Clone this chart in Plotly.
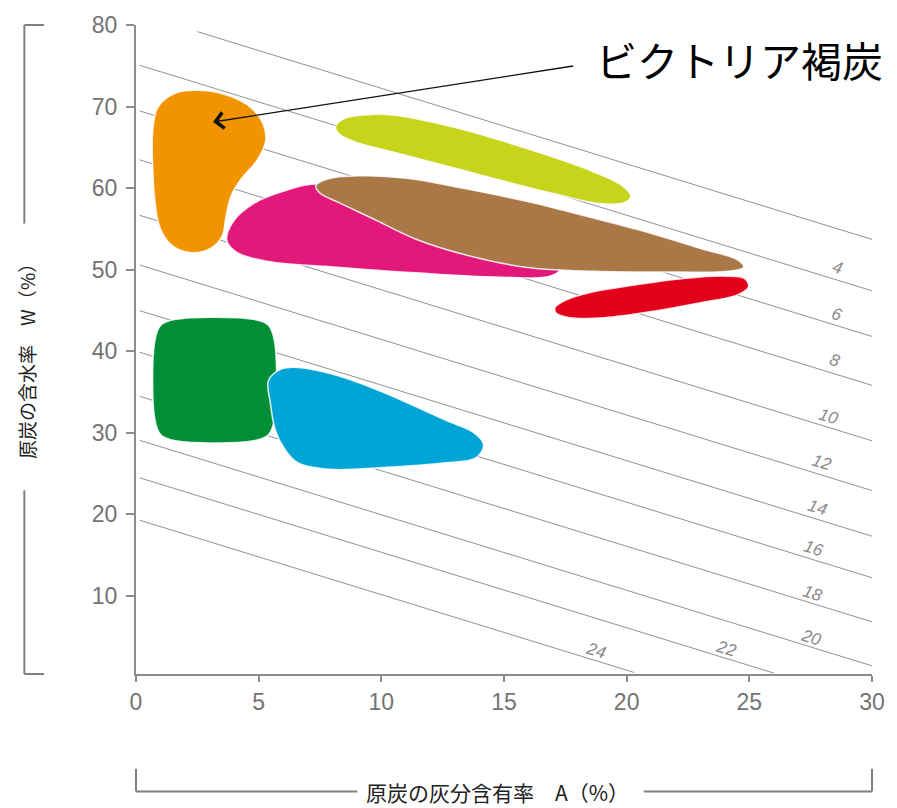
import plotly.graph_objects as go

# ---------------- data (A = ash %, W = moisture %) ----------------
x_ticks = [0, 5, 10, 15, 20, 25, 30]
y_ticks = [10, 20, 30, 40, 50, 60, 70, 80]

# iso-lines: W at A=0 and at A=30, and the A-range each line is drawn over
iso_labels = ["", "4", "6", "8", "10", "12", "14", "16", "18", "20", "22", "24"]
iso_w0 = [81.5, 75.2, 69.6, 63.6, 56.8, 50.7, 45.1, 40.0, 34.6, 29.2, 24.6, 19.4]
iso_w30 = [53.7, 47.4, 41.8, 35.8, 29.0, 22.9, 17.3, 12.2, 6.8, 1.4, -3.2, -8.4]
iso_a_start = [2.5, 0.15, 0.15, 0.15, 0.15, 0.15, 0.15, 0.15, 0.15, 0.15, 0.15, 0.15]
iso_a_end = [30, 30, 30, 30, 30, 30, 30, 30, 30, 30, 26.0, 20.3]
iso_label_a = [None, 28.59, 28.59, 28.51, 28.23, 27.95, 27.79, 27.63, 27.59, 27.51, 24.04, 18.73]
iso_label_w = [None, 50.3, 44.5, 38.9, 32.0, 26.3, 20.8, 15.8, 10.3, 4.9, 3.5, 3.3]

# coal regions (outline vertices)
orange_a = [1.57, 2.58, 3.70, 4.67, 5.19, 5.28, 4.91, 4.31, 3.87, 3.66, 3.50, 2.98, 2.17, 1.45, 0.97, 0.77, 0.68, 0.68, 0.89]
orange_w = [71.6, 72.0, 71.4, 69.9, 67.8, 65.7, 63.3, 61.2, 59.0, 56.4, 54.0, 52.5, 52.1, 53.0, 55.2, 58.4, 62.7, 66.9, 69.9]

yellow_a = [8.13, 8.46, 9.42, 10.63, 13.17, 15.87, 18.56, 19.81, 20.17, 19.89, 18.89, 17.19, 14.66, 13.17, 10.63, 8.90, 8.30]
yellow_w = [67.5, 68.5, 69.0, 68.9, 67.3, 64.9, 62.1, 60.3, 59.0, 58.2, 58.1, 59.2, 61.1, 62.3, 64.3, 65.7, 66.6]

magenta_a = [3.70, 3.99, 4.79, 6.00, 7.41, 10.63, 14.66, 17.28, 16.87, 14.66, 11.44, 8.21, 5.40, 4.11]
magenta_w = [53.6, 56.0, 58.1, 59.6, 60.5, 57.8, 53.0, 50.1, 49.2, 49.1, 49.6, 50.3, 51.0, 52.1]

brown_a = [7.33, 7.81, 9.02, 11.03, 13.45, 15.87, 18.28, 20.70, 23.11, 24.52, 24.77, 24.12, 21.91, 18.68, 15.87, 13.45, 11.44, 9.62, 8.21, 7.49]
brown_w = [60.3, 61.1, 61.5, 61.2, 59.9, 58.4, 56.6, 54.7, 52.5, 51.2, 50.3, 49.8, 49.7, 49.8, 50.3, 51.8, 53.7, 56.3, 58.3, 59.4]

red_a = [17.07, 17.48, 18.68, 20.30, 22.31, 23.92, 24.81, 24.97, 24.52, 23.11, 21.10, 19.09, 17.68, 17.15]
red_w = [45.3, 46.2, 47.3, 48.1, 48.9, 49.2, 48.9, 47.9, 46.9, 46.0, 44.9, 44.1, 44.1, 44.6]

green_a = [1.62, 4.79, 5.39, 5.64, 5.64, 5.39, 4.79, 1.62, 1.02, 0.77, 0.77, 1.02]
green_w = [43.9, 43.9, 43.2, 41.3, 31.6, 29.7, 29.0, 29.0, 29.7, 31.6, 41.3, 43.2]

cyan_a = [5.40, 5.92, 6.60, 8.21, 9.95, 12.64, 13.77, 14.17, 13.85, 12.64, 9.95, 7.93, 6.60, 6.08, 5.68, 5.48]
cyan_w = [36.4, 37.8, 38.0, 37.0, 35.1, 31.5, 30.0, 28.5, 26.9, 26.3, 25.7, 25.5, 26.3, 27.9, 30.3, 33.6]

regions = [
    (orange_a, orange_w, "#F29400"),
    (yellow_a, yellow_w, "#C8D31B"),
    (magenta_a, magenta_w, "#E3187B"),
    (brown_a, brown_w, "#AA7846"),
    (red_a, red_w, "#E2001A"),
    (green_a, green_w, "#008F36"),
    (cyan_a, cyan_w, "#00A5D6"),
]

victoria_arrow_head = (3.14, 68.1)
victoria_arrow_tail = (17.88, 75.0)
victoria_text_pos = (24.6, 75.8)

# ---------------- figure ----------------
fig = go.Figure()

slope = [(w30 - w0) / 30.0 for w0, w30 in zip(iso_w0, iso_w30)]
for i in range(len(iso_w0)):
    a0, a1 = iso_a_start[i], iso_a_end[i]
    fig.add_trace(go.Scatter(
        x=[a0, a1],
        y=[iso_w0[i] + slope[i] * a0, iso_w0[i] + slope[i] * a1],
        mode="lines", line=dict(color="#8e929a", width=1),
        hoverinfo="skip", cliponaxis=True,
    ))

for a, w, col in regions:
    fig.add_trace(go.Scatter(
        x=a + [a[0]], y=w + [w[0]],
        mode="lines", fill="toself", fillcolor=col,
        line=dict(color="rgba(255,255,255,0.85)", width=1.5, shape="spline", smoothing=1),
        hoverinfo="skip",
    ))

annotations = []
for lab, la, lw in zip(iso_labels, iso_label_a, iso_label_w):
    if lab:
        annotations.append(dict(
            x=la, y=lw, xref="x", yref="y", text="<i>" + lab + "</i>",
            showarrow=False, textangle=17,
            font=dict(family="Liberation Sans", size=17, color="#8a8a8a"),
        ))

annotations.append(dict(
    x=victoria_arrow_head[0], y=victoria_arrow_head[1], xref="x", yref="y",
    ax=victoria_arrow_tail[0], ay=victoria_arrow_tail[1], axref="x", ayref="y",
    text="", showarrow=True, arrowhead=4, arrowsize=2.4, arrowwidth=1.3,
    arrowcolor="#111111",
))
annotations.append(dict(
    x=victoria_text_pos[0], y=victoria_text_pos[1], xref="x", yref="y",
    text="ビクトリア褐炭", showarrow=False,
    font=dict(family="Noto Sans CJK JP", size=41, color="#000000"),
))

# axis titles
annotations.append(dict(
    x=0.4913, y=-0.1811, xref="paper", yref="paper",
    text="原炭の灰分含有率　A（%）", showarrow=False,
    font=dict(family="Noto Sans CJK JP", size=21, color="#222222"),
    xanchor="center", yanchor="middle",
))
annotations.append(dict(
    x=-0.149, y=0.489, xref="paper", yref="paper",
    text="原炭の含水率　W（%）", showarrow=False, textangle=-90,
    font=dict(family="Noto Sans CJK JP", size=19, color="#222222"),
    xanchor="center", yanchor="middle",
))

bracket = dict(color="#808080", width=2)
shapes = [
    # left bracket
    dict(type="line", xref="paper", yref="paper", x0=-0.1517, x1=-0.1517, y0=1.0, y1=0.694, line=bracket),
    dict(type="line", xref="paper", yref="paper", x0=-0.1517, x1=-0.1248, y0=1.0, y1=1.0, line=bracket),
    dict(type="line", xref="paper", yref="paper", x0=-0.1517, x1=-0.1517, y0=0.283, y1=0.0, line=bracket),
    dict(type="line", xref="paper", yref="paper", x0=-0.1517, x1=-0.1248, y0=0.0, y1=0.0, line=bracket),
    # bottom bracket
    dict(type="line", xref="paper", yref="paper", x0=0.0, x1=0.0, y0=-0.1461, y1=-0.1811, line=bracket),
    dict(type="line", xref="paper", yref="paper", x0=0.0, x1=0.3007, y0=-0.1811, y1=-0.1811, line=bracket),
    dict(type="line", xref="paper", yref="paper", x0=0.6899, x1=1.0, y0=-0.1811, y1=-0.1811, line=bracket),
    dict(type="line", xref="paper", yref="paper", x0=1.0, x1=1.0, y0=-0.1461, y1=-0.1811, line=bracket),
]

tickfont = dict(family="Liberation Sans", size=23, color="#737373")
fig.update_layout(
    width=897, height=808,
    margin=dict(l=136, r=16, t=17, b=134),
    paper_bgcolor="white", plot_bgcolor="white",
    showlegend=False,
    annotations=annotations, shapes=shapes,
    xaxis=dict(range=[0, 30], tickvals=x_ticks, showline=True, linecolor="#8c8c8c", linewidth=2,
               ticks="outside", ticklen=6, tickcolor="#8c8c8c", tickwidth=1.5,
               showgrid=False, zeroline=False, tickfont=tickfont, fixedrange=True),
    yaxis=dict(range=[0.4, 80], tickvals=y_ticks, showline=True, linecolor="#8c8c8c", linewidth=2,
               ticks="outside", ticklen=8, tickcolor="#8c8c8c", tickwidth=1.5,
               showgrid=False, zeroline=False, tickfont=tickfont, fixedrange=True,
               ticklabelstandoff=4),
)

fig.write_html("out.html")
